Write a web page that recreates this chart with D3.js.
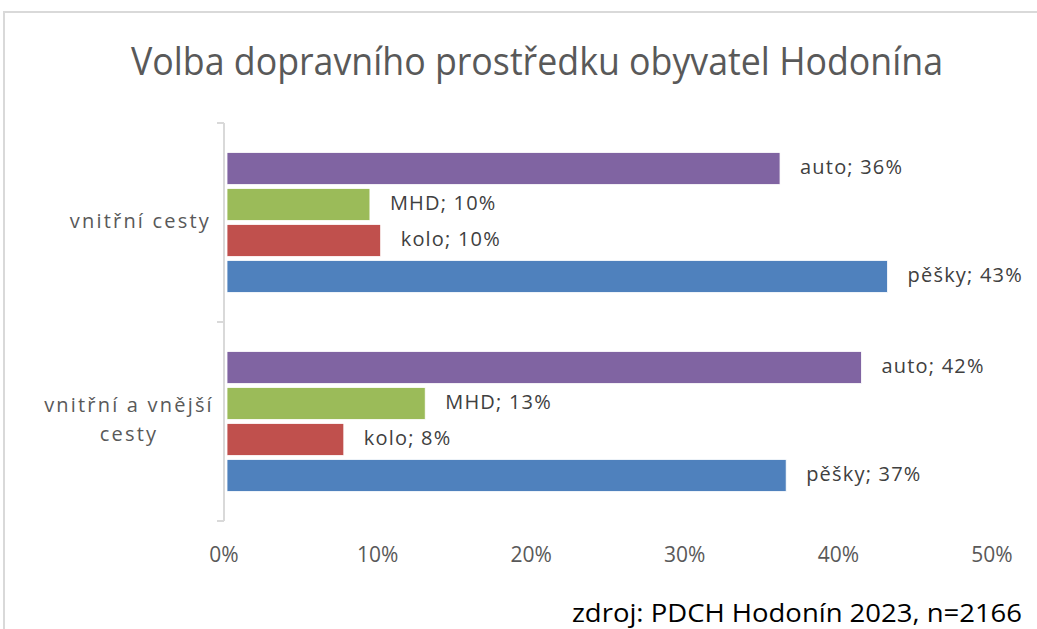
<!DOCTYPE html>
<html>
<head>
<meta charset="utf-8">
<script src="https://cdn.jsdelivr.net/npm/d3@7"></script>
<style>
  body { margin: 0; background: #fff; }
  svg { display: block; font-family: "Open Sans", "Noto Sans", sans-serif; }
</style>
</head>
<body>
<div class="vis"></div>
<script>
(function() {
    // categories (top to bottom) and series (top to bottom within a group)
    const categories = ["vnitřní cesty", "vnitřní a vnější cesty"];
    const series = ["auto", "MHD", "kolo", "pěšky"];
    const colors = ["#8064a2", "#9bbb59", "#c0504d", "#4f81bd"];

    // bar lengths in %
    const vnitrni = [36.2, 9.5, 10.2, 43.2];
    const vnitrniVnejsi = [41.5, 13.1, 7.8, 36.6];
    // printed label values
    const vnitrniLabels = [36, 10, 10, 43];
    const vnitrniVnejsiLabels = [42, 13, 8, 37];

    const xTicks = [0, 10, 20, 30, 40, 50];

    const title = "Volba dopravního prostředku obyvatel Hodonína";
    const source = "zdroj: PDCH Hodonín 2023, n=2166";

    const dimensions = {
        width: 1037,
        height: 629,
        plot: { left: 224, right: 992, top: 123, bottom: 521 }
    };

    const values = [vnitrni, vnitrniVnejsi];
    const labels = [vnitrniLabels, vnitrniVnejsiLabels];

    const svg = d3.select(".vis").append("svg")
        .attr("width", dimensions.width)
        .attr("height", dimensions.height);

    // chart border
    svg.append("rect")
        .attr("x", 4)
        .attr("y", 12)
        .attr("width", dimensions.width + 10)
        .attr("height", dimensions.height + 10)
        .attr("fill", "none")
        .attr("stroke", "#d9d9d9")
        .attr("stroke-width", 2);

    svg.append("text")
        .attr("x", 537)
        .attr("y", 75)
        .attr("text-anchor", "middle")
        .attr("fill", "#595959")
        .attr("font-size", 38)
        .attr("textLength", 812)
        .attr("lengthAdjust", "spacingAndGlyphs")
        .text(title);

    const x = d3.scaleLinear()
        .domain([0, 50])
        .range([dimensions.plot.left, dimensions.plot.right]);

    const y = d3.scaleBand()
        .domain(categories)
        .range([dimensions.plot.top, dimensions.plot.bottom]);

    const yInner = d3.scaleBand()
        .domain(series)
        .range([0, y.bandwidth()])
        .paddingInner(0.11)
        .paddingOuter(0.82);

    // category axis (left, outer ticks at band edges)
    const axisG = svg.append("g");
    axisG.append("line")
        .attr("x1", x(0)).attr("x2", x(0))
        .attr("y1", dimensions.plot.top).attr("y2", dimensions.plot.bottom)
        .attr("stroke", "#d9d9d9")
        .attr("stroke-width", 2);

    const edges = categories.map(c => y(c)).concat([y(categories[categories.length - 1]) + y.bandwidth()]);
    axisG.selectAll(".tick")
        .data(edges)
        .enter().append("line")
        .attr("x1", x(0) - 7).attr("x2", x(0))
        .attr("y1", d => d).attr("y2", d => d)
        .attr("stroke", "#d9d9d9")
        .attr("stroke-width", 2);

    // category labels
    const catLines = [["vnitřní cesty"], ["vnitřní a vnější", "cesty"]];
    categories.forEach((c, i) => {
        const lines = catLines[i];
        const cy = y(c) + y.bandwidth() / 2;
        const t = svg.append("text")
            .attr("fill", "#595959")
            .attr("font-size", 20)
            .attr("letter-spacing", 2.2)
            .attr("text-anchor", lines.length > 1 ? "middle" : "end")
            .attr("dominant-baseline", "middle");
        lines.forEach((l, j) => {
            t.append("tspan")
                .attr("x", lines.length > 1 ? 129 : 211)
                .attr("y", cy + (j - (lines.length - 1) / 2) * 29)
                .text(l);
        });
    });

    // bars
    categories.forEach((c, i) => {
        const g = svg.append("g")
            .attr("transform", `translate(0,${y(c)})`);

        const rows = series.map((s, k) => ({ s, v: values[i][k], lab: labels[i][k], color: colors[k] }));

        g.selectAll("rect")
            .data(rows)
            .enter().append("rect")
            .attr("x", x(0) + 3)
            .attr("y", d => yInner(d.s))
            .attr("width", d => x(d.v) - x(0) - 3)
            .attr("height", yInner.bandwidth())
            .attr("fill", d => d.color)
            .attr("stroke", "#fff")
            .attr("stroke-width", 0.8);

        g.selectAll(".lab")
            .data(rows)
            .enter().append("text")
            .attr("class", "lab")
            .attr("x", d => x(d.v) + 20)
            .attr("y", d => yInner(d.s) + yInner.bandwidth() / 2)
            .attr("dominant-baseline", "middle")
            .attr("fill", "#404040")
            .attr("font-size", 20)
            .attr("letter-spacing", 1.2)
            .text(d => `${d.s}; ${d.lab}%`);
    });

    // x axis tick labels
    svg.append("g")
        .selectAll("text")
        .data(xTicks)
        .enter().append("text")
        .attr("x", d => x(d))
        .attr("y", 556)
        .attr("text-anchor", "middle")
        .attr("dominant-baseline", "middle")
        .attr("fill", "#595959")
        .attr("font-size", 21)
        .text(d => d + "%");

    svg.append("text")
        .attr("x", 1022)
        .attr("y", 622)
        .attr("text-anchor", "end")
        .attr("fill", "#000")
        .attr("font-size", 25)
        .attr("textLength", 450)
        .attr("lengthAdjust", "spacingAndGlyphs")
        .text(source);
})()
</script>
</body>
</html>
